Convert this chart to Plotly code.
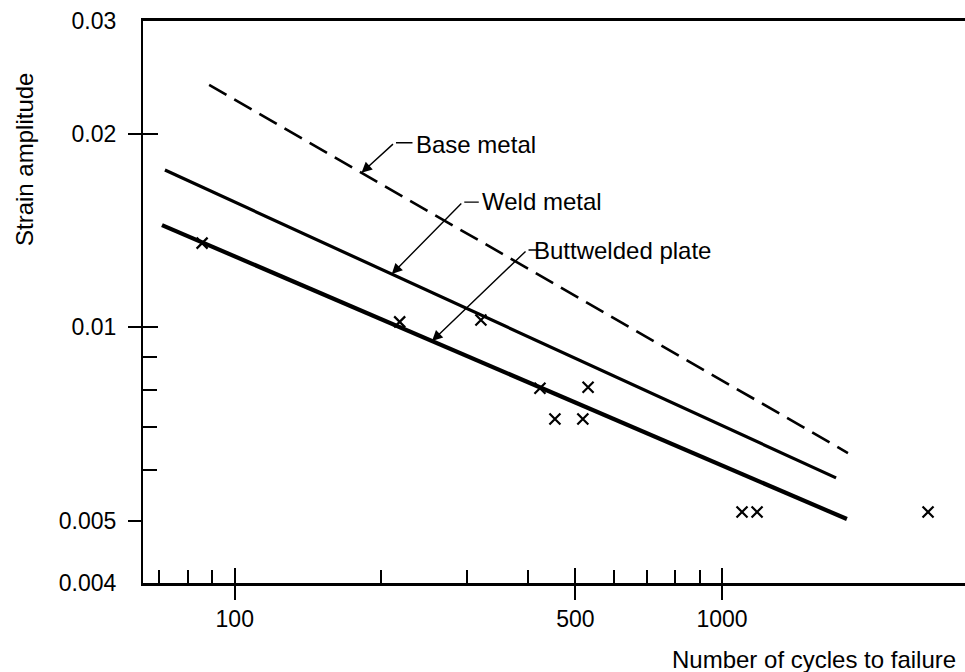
import numpy as np
import plotly.graph_objects as go

# ---------------- data ----------------
base_cycles = [88.6, 1813]
base_strain = [0.02385, 0.006374]

weld_cycles = [71.9, 1714]
weld_strain = [0.01758, 0.005831]

butt_cycles = [70.9, 1804]
butt_strain = [0.01443, 0.005031]

test_cycles = [85.7, 218, 320, 423, 531, 454, 518, 1099, 1180, 2647]
test_strain = [0.01353, 0.0102, 0.01027, 0.00804, 0.00807, 0.0072, 0.0072,
               0.00516, 0.00516, 0.00516]

x_tick_vals = [100, 500, 1000]
x_tick_text = ["100", "500", "1000"]
x_minor_vals = [70, 80, 90, 200, 300, 400, 600, 700, 800, 900]

y_tick_vals = [0.004, 0.005, 0.01, 0.02, 0.03]
y_tick_text = ["0.004", "0.005", "0.01", "0.02", "0.03"]
y_out_ticks = [0.005, 0.01, 0.02]
y_cross_ticks = [0.01, 0.02]
y_minor_vals = [0.006, 0.007, 0.008, 0.009]

labels = ["Base metal", "Weld metal", "Buttwelded plate"]
label_at_cycles = [182, 210, 254]

FONT = "Liberation Sans, Arial, Helvetica, sans-serif"

fig = go.Figure()

# each line is drawn on one of the overlay axes so that those axes render their ticks
fig.add_trace(go.Scatter(x=base_cycles, y=base_strain, mode="lines", xaxis="x", yaxis="y2",
                         line=dict(color="black", width=2.6, dash="20px,9px")))
fig.add_trace(go.Scatter(x=weld_cycles, y=weld_strain, mode="lines", xaxis="x", yaxis="y3",
                         line=dict(color="black", width=3.2)))
fig.add_trace(go.Scatter(x=butt_cycles, y=butt_strain, mode="lines", xaxis="x2", yaxis="y",
                         line=dict(color="black", width=4.2)))
fig.add_trace(go.Scatter(x=test_cycles, y=test_strain, mode="markers", xaxis="x", yaxis="y",
                         marker=dict(symbol="x-thin", size=11,
                                     line=dict(color="black", width=2.2))))


def on_line(cx, cy, x):
    return np.interp(np.log10(x), np.log10(cx), np.log10(cy))


series = [(base_cycles, base_strain), (weld_cycles, weld_strain), (butt_cycles, butt_strain)]
# pixel offsets: arrow tail, leader length, text shift
arrow_off = [(33, -30), (71, -72), (95, -91)]
leader_len = [18, 16, 10]
text_shift = [(53, 28), (88, 73), (100, 91)]

annotations = []
for (cx, cy), lab, xc, (ax, ay), ll, (tx, ty) in zip(series, labels, label_at_cycles,
                                                    arrow_off, leader_len, text_shift):
    lx = float(np.log10(xc))
    ly = float(on_line(cx, cy, xc))
    annotations.append(dict(x=lx, y=ly, xref="x", yref="y", text="", showarrow=True,
                            ax=ax, ay=ay, arrowhead=2, arrowsize=1.5, arrowwidth=1.4,
                            arrowcolor="black", standoff=0))
    annotations.append(dict(x=lx, y=ly, xref="x", yref="y", text="", showarrow=True,
                            xshift=ax + ll, yshift=-ay, ax=-ll, ay=0, arrowhead=0,
                            arrowwidth=1.4, arrowcolor="black", standoff=0))
    annotations.append(dict(x=lx, y=ly, xref="x", yref="y", text=lab, showarrow=False,
                            xanchor="left", yanchor="middle", xshift=tx, yshift=ty,
                            font=dict(family=FONT, size=24, color="black")))

annotations.append(dict(x=-0.1448, y=0.7544, xref="paper", yref="paper",
                        text="Strain amplitude", textangle=-90, showarrow=False,
                        xanchor="center", yanchor="middle",
                        font=dict(family=FONT, size=24, color="black")))
annotations.append(dict(x=0.9915, y=-0.137, xref="paper", yref="paper",
                        text="Number of cycles to failure", showarrow=False,
                        xanchor="right", yanchor="middle",
                        font=dict(family=FONT, size=24, color="black")))

xr = [1.8117, 3.4986]
yr = [float(np.log10(0.004)), float(np.log10(0.03))]

fig.update_layout(
    width=965, height=672,
    margin=dict(l=143, r=0, t=21, b=89),
    paper_bgcolor="white", plot_bgcolor="white",
    showlegend=False,
    font=dict(family=FONT, size=23, color="black"),
    annotations=annotations,
    xaxis=dict(type="log", range=xr, tickvals=x_tick_vals, ticktext=x_tick_text,
               ticks="outside", ticklen=14, tickwidth=1.6, tickcolor="black",
               showline=True, linecolor="black", linewidth=2.5, mirror=True,
               showgrid=False, zeroline=False,
               tickfont=dict(family=FONT, size=23, color="black"),
               minor=dict(tickvals=x_minor_vals, ticks="inside", ticklen=13,
                          tickwidth=1.6, tickcolor="black", showgrid=False)),
    xaxis2=dict(type="log", range=xr, overlaying="x", anchor="y", side="bottom",
                tickvals=x_tick_vals, ticks="inside", ticklen=15, tickwidth=1.6,
                tickcolor="black", showticklabels=False, showline=False,
                showgrid=False, zeroline=False),
    yaxis=dict(type="log", range=yr, tickvals=y_tick_vals, ticktext=y_tick_text,
               ticks="", showline=True, linecolor="black", linewidth=2.2,
               mirror=False, showgrid=False, zeroline=False, ticklabelstandoff=20,
               tickfont=dict(family=FONT, size=23, color="black")),
    yaxis2=dict(type="log", range=yr, overlaying="y", anchor="x", side="left",
                tickvals=y_out_ticks, ticks="outside", ticklen=14, tickwidth=1.6,
                tickcolor="black", showticklabels=False, showline=False,
                showgrid=False, zeroline=False,
                minor=dict(tickvals=y_minor_vals, ticks="inside", ticklen=14,
                           tickwidth=1.6, tickcolor="black", showgrid=False)),
    yaxis3=dict(type="log", range=yr, overlaying="y", anchor="x", side="left",
                tickvals=y_cross_ticks, ticks="inside", ticklen=15, tickwidth=1.6,
                tickcolor="black", showticklabels=False, showline=False,
                showgrid=False, zeroline=False),
)

fig.write_html("out.html")
